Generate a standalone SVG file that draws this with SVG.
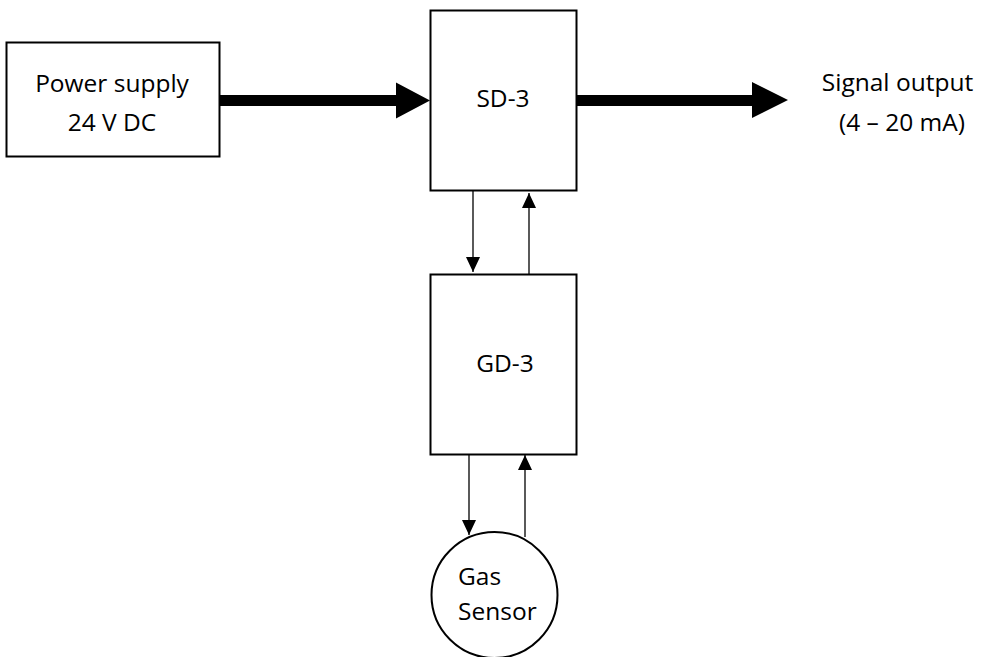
<svg xmlns="http://www.w3.org/2000/svg" width="985" height="657" viewBox="0 0 985 657">
<defs>
<style>
.box{fill:#fff;stroke:#000;stroke-width:2}
.t{font-family:"Open Sans","Noto Sans","Liberation Sans",sans-serif;font-size:24.5px;fill:#000}
.thin{stroke:#000;stroke-width:1.3;fill:none}
</style>
<marker id="ah" markerWidth="15" markerHeight="14" refX="15" refY="7" orient="auto" markerUnits="userSpaceOnUse">
<path d="M0,0 L15,7 L0,14 Z" fill="#000"/>
</marker>
</defs>
<rect width="985" height="657" fill="#fff"/>
<g id="power">
<rect class="box" x="6.5" y="42.5" width="213" height="114"/>
<text class="t" x="112" y="91.5" text-anchor="middle">Power supply</text>
<text class="t" x="112" y="130.5" text-anchor="middle">24 V DC</text>
</g>
<g id="sd3">
<rect class="box" x="430.5" y="10.5" width="146" height="180"/>
<text class="t" x="503" y="107" text-anchor="middle">SD-3</text>
</g>
<g id="gd3">
<rect class="box" x="430.5" y="274.5" width="146" height="180"/>
<text class="t" x="505" y="371.5" text-anchor="middle">GD-3</text>
</g>
<g id="sensor">
<circle class="box" cx="494.5" cy="595" r="63"/>
<text class="t" x="458" y="585">Gas</text>
<text class="t" x="458" y="619.5">Sensor</text>
</g>
<g id="output">
<text class="t" x="897.5" y="91" text-anchor="middle">Signal output</text>
<text class="t" x="902" y="130.5" text-anchor="middle">(4 – 20 mA)</text>
</g>
<g id="connectors">
<path d="M220,95 L396,95 L396,82.5 L430,100.5 L396,118.5 L396,106 L220,106 Z" fill="#000"/>
<path d="M577,95 L752,95 L752,82 L788,100 L752,118 L752,106 L577,106 Z" fill="#000"/>
<line class="thin" x1="473" y1="191" x2="473" y2="272" marker-end="url(#ah)"/>
<line class="thin" x1="529" y1="274" x2="529" y2="193" marker-end="url(#ah)"/>
<line class="thin" x1="469" y1="455" x2="469" y2="535" marker-end="url(#ah)"/>
<line class="thin" x1="525" y1="537" x2="525" y2="455" marker-end="url(#ah)"/>
</g>
</svg>
